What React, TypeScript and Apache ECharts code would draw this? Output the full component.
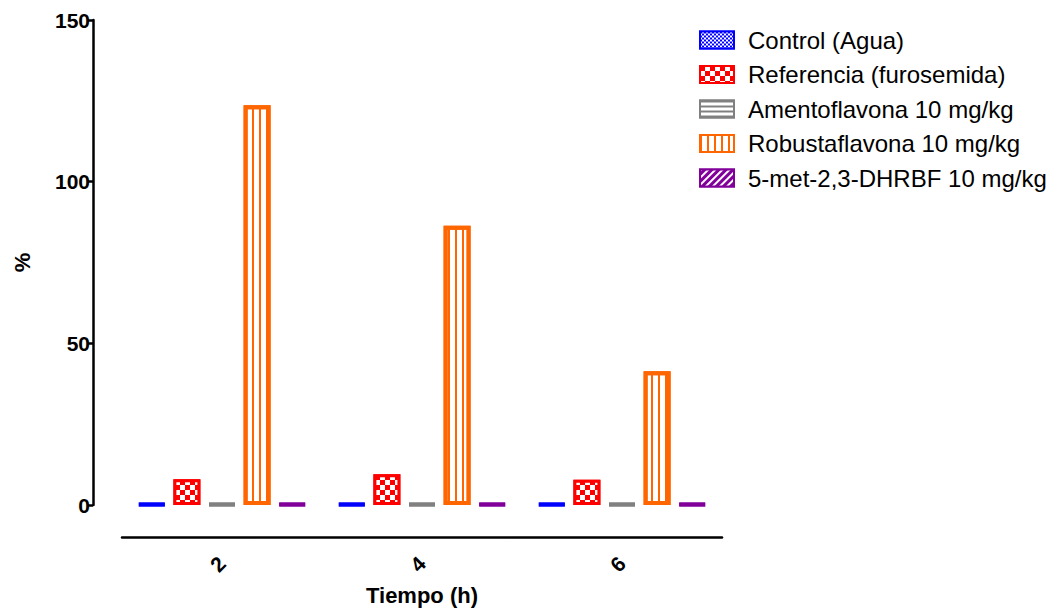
import React, { useEffect, useRef } from "react";
import * as echarts from "echarts";

const categories = ["2", "4", "6"];
const yTicks = [0, 50, 100, 150];
const seriesNames = [
  "Control (Agua)",
  "Referencia (furosemida)",
  "Amentoflavona 10 mg/kg",
  "Robustaflavona 10 mg/kg",
  "5-met-2,3-DHRBF 10 mg/kg",
];
const controlValues = [0, 0, 0];
const referenciaValues = [8, 9.5, 7.8];
const amentoValues = [0, 0, 0];
const robustaValues = [123.6, 86.4, 41.4];
const dhrbfValues = [0, 0, 0];

const FONT = "Liberation Sans";

export default function App() {
  const ref = useRef<HTMLDivElement>(null);
  useEffect(() => {
    const chart = echarts.init(ref.current!, null, { renderer: "svg" });
    const common = { type: "bar", barWidth: 27, barGap: "30%", barMinHeight: 1 };
    chart.setOption({
      animation: false,
      backgroundColor: "#fff",
      grid: { left: 122, right: 338, top: 20, bottom: 105, outerBoundsMode: "none", containLabel: false },
      legend: {
        orient: "vertical",
        left: 694,
        top: 23,
        itemWidth: 34,
        itemHeight: 17,
        itemGap: 10.5,
        icon: "rect",
        textStyle: { fontFamily: FONT, fontSize: 24, color: "#000", padding: [0, 0, 0, 9] },
        data: seriesNames,
      },
      xAxis: {
        type: "category",
        data: categories,
        offset: 32,
        name: "Tiempo (h)",
        nameLocation: "middle",
        nameGap: 47,
        nameMoveOverlap: false,
        nameTextStyle: { fontFamily: FONT, fontSize: 22, fontWeight: "bold", color: "#000" },
        axisLine: { onZero: false, lineStyle: { color: "#000", width: 2.5 } },
        axisTick: { alignWithLabel: true, length: 7, lineStyle: { color: "#000", width: 2.5 } },
        axisLabel: { rotate: 45, margin: 23, fontFamily: FONT, fontSize: 21, fontWeight: "bold", color: "#000" },
      },
      yAxis: {
        type: "value",
        min: yTicks[0],
        max: yTicks[yTicks.length - 1],
        interval: 50,
        offset: 29,
        name: "%",
        nameLocation: "middle",
        nameGap: 60,
        nameTextStyle: { fontFamily: FONT, fontSize: 22, fontWeight: "bold", color: "#000" },
        splitLine: { show: false },
        axisLine: { show: true, lineStyle: { color: "#000", width: 2.5 } },
        axisTick: { show: true, length: 5, lineStyle: { color: "#000", width: 2.5 } },
        axisLabel: { margin: 3, fontFamily: FONT, fontSize: 21, fontWeight: "bold", color: "#000" },
      },
      series: [
        {
          ...common,
          name: seriesNames[0],
          data: controlValues,
          itemStyle: {
            color: "#0000ff",
            borderColor: "#0000ff",
            borderWidth: 4,
            decal: { symbol: "rect", symbolSize: 1, color: "#ffffff", dashArrayX: [[2, 2], [0, 2, 2, 0]], dashArrayY: [2, 0] },
          },
        },
        {
          ...common,
          name: seriesNames[1],
          data: referenciaValues,
          itemStyle: {
            color: "#ff0000",
            borderColor: "#ff0000",
            borderWidth: 3,
            decal: { symbol: "rect", symbolSize: 1, color: "#ffffff", dashArrayX: [[5, 5], [0, 5, 5, 0]], dashArrayY: [5, 0] },
          },
        },
        {
          ...common,
          name: seriesNames[2],
          data: amentoValues,
          itemStyle: {
            color: "#ffffff",
            borderColor: "#808080",
            borderWidth: 4,
            decal: { symbol: "rect", symbolSize: 1, color: "#808080", dashArrayX: [5, 0], dashArrayY: [2, 3] },
          },
        },
        {
          ...common,
          name: seriesNames[3],
          data: robustaValues,
          itemStyle: {
            color: "#ffffff",
            borderColor: "#ff6600",
            borderWidth: 4,
            decal: { symbol: "rect", symbolSize: 1, color: "#ff6600", dashArrayX: [2, 5], dashArrayY: [5, 0] },
          },
        },
        {
          ...common,
          name: seriesNames[4],
          data: dhrbfValues,
          itemStyle: {
            color: "#800099",
            borderColor: "#800099",
            borderWidth: 4,
            decal: { symbol: "rect", symbolSize: 1, color: "#ffffff", dashArrayX: [5, 0], dashArrayY: [2, 3], rotation: -Math.PI / 4 },
          },
        },
      ],
    });
    return () => chart.dispose();
  }, []);
  return (
    <div
      ref={ref}
      style={{ position: "fixed", left: 0, top: 0, width: 1060, height: 610, background: "#fff" }}
    />
  );
}
